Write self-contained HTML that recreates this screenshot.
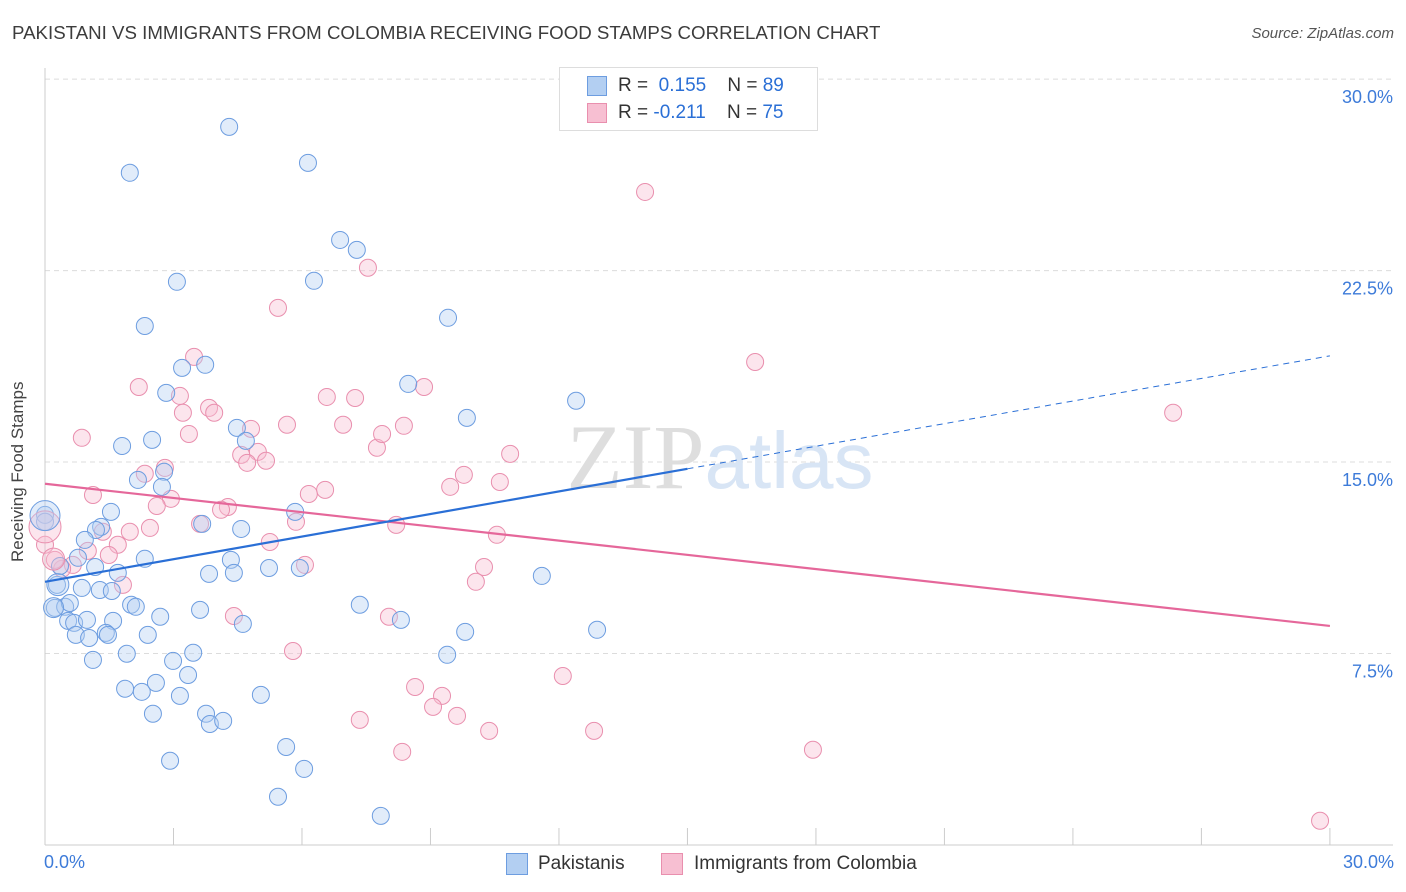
<!DOCTYPE html>
<html><head><meta charset="utf-8"><style>
body{margin:0;background:#fff;font-family:"Liberation Sans",sans-serif;}
#wrap{position:relative;width:1406px;height:892px;overflow:hidden;}
.t{position:absolute;white-space:nowrap;}
</style></head><body>
<div id="wrap">
<div class="t" style="left:12px;top:22px;font-size:18.7px;color:#3c3c3c;">PAKISTANI VS IMMIGRANTS FROM COLOMBIA RECEIVING FOOD STAMPS CORRELATION CHART</div>
<div class="t" style="right:12px;top:25px;font-size:15px;color:#555;font-style:italic;">Source: ZipAtlas.com</div>
<svg id="svg" width="1406" height="892" style="position:absolute;left:0;top:0"></svg>
</div>
<script>
const blueX=[4.30,1.98,6.14,6.89,7.28,3.08,6.28,2.33,9.41,3.20,3.74,8.48,2.83,12.40,9.85,1.80,2.50,4.48,4.69,2.78,2.17,2.73,1.54,1.31,1.19,0.93,3.67,4.58,5.84,0,0,2.33,0.77,4.34,0.35,1.17,1.70,5.23,5.95,3.83,4.41,11.60,0.28,0.86,1.28,1.56,0.23,0.47,0.58,0.54,0.68,0.98,1.59,2.01,2.12,2.69,3.62,7.35,8.31,4.62,0.72,1.03,1.42,1.47,2.40,9.81,12.89,1.91,1.12,2.99,3.46,9.39,3.34,1.87,2.26,2.59,3.15,5.04,2.52,3.76,3.85,4.16,5.63,2.92,6.05,5.44,7.84];
const blueY=[28.13,26.33,26.72,23.70,23.31,22.06,22.10,20.33,20.65,18.69,18.81,18.06,17.71,17.40,16.73,15.63,15.87,16.34,15.83,14.62,14.30,14.03,13.05,12.46,12.34,11.95,12.58,12.38,13.05,12.93,12.66,11.21,11.25,11.17,10.93,10.89,10.66,10.85,10.85,10.62,10.66,10.54,10.19,10.07,9.99,9.95,9.29,9.33,9.48,8.78,8.70,8.82,8.78,9.41,9.33,8.94,9.21,9.41,8.82,8.66,8.23,8.11,8.31,8.23,8.23,8.35,8.43,7.49,7.25,7.21,7.53,7.45,6.66,6.12,6.00,6.35,5.84,5.88,5.14,5.14,4.74,4.86,3.84,3.30,2.98,1.89,1.14];
const pinkX=[14.01,7.54,5.44,16.58,3.48,2.19,3.15,8.85,3.83,3.22,3.95,6.58,7.24,26.34,0.86,3.36,5.65,6.96,8.38,4.81,7.75,7.87,10.86,4.58,4.97,5.16,2.80,2.33,9.78,4.72,10.62,1.12,9.46,2.94,2.61,6.54,6.16,4.27,4.11,5.86,3.62,1.35,2.45,8.20,10.55,1.98,1.70,5.25,1.00,1.49,0.65,0.40,6.07,10.25,10.06,1.82,4.41,8.03,5.79,12.09,8.64,9.27,9.06,9.62,7.35,10.37,12.82,8.34,17.93,29.77,0,0.23];
const pinkY=[25.58,22.61,21.04,18.92,19.12,17.94,17.59,17.94,17.12,16.93,16.93,17.55,17.51,16.93,15.95,16.10,16.46,16.46,16.42,16.30,15.56,16.10,15.32,15.28,15.40,15.05,14.77,14.54,14.50,14.97,14.22,13.71,14.03,13.56,13.28,13.91,13.75,13.24,13.13,12.66,12.58,12.27,12.42,12.54,12.15,12.27,11.76,11.87,11.52,11.36,10.97,10.82,10.97,10.89,10.31,10.19,8.97,8.94,7.60,6.62,6.19,5.84,5.41,5.06,4.90,4.47,4.47,3.65,3.73,0.95,11.76,11.17];
const bigBlue=[[0,12.9,15],[0.2,9.3,10],[0.3,10.2,11]];
const bigPink=[[0,12.46,16],[0.2,11.2,11]];
const blueTrend=[10.31,19.16]; const blueSolidEnd=15;
const pinkTrend=[14.15,8.58];
const yTicks=[7.5,15,22.5,30];
const yTickLabels=["7.5%","15.0%","22.5%","30.0%"];
const xTicks=[0,3,6,9,12,15,18,21,24,27,30];
const xs=v=>45+v*42.83, ys=v=>845-v*25.53;
const svg=document.getElementById('svg');const NS='http://www.w3.org/2000/svg';
function mk(tag,a,parent){const e=document.createElementNS(NS,tag);for(const k in a)e.setAttribute(k,a[k]);(parent||svg).appendChild(e);return e;}
yTicks.forEach((t,i)=>{
 const g=mk('line',{x1:45,x2:1393,y1:ys(t),y2:ys(t),stroke:'#dcdcdc','stroke-dasharray':'5,4'});
 
 
 const l=mk('text',{x:1393,y:ys(t)+24,'text-anchor':'end','font-size':18,fill:'#3d7bd9','font-family':'Liberation Sans'});
 l.textContent=yTickLabels[i];
 
 
});
const ax=mk('line',{x1:45,x2:45,y1:68,y2:845,stroke:'#ccc'});


const bx=mk('line',{x1:45,x2:1393,y1:845,y2:845,stroke:'#ccc'});


xTicks.forEach(t=>{const k=mk('line',{x1:xs(t),x2:xs(t),y1:828,y2:845,stroke:'#ccc'});
 
 });
const wm=mk('text',{x:720,y:488,'text-anchor':'middle','font-size':92,'font-family':'Liberation Serif',fill:'#e3e3e3'});
wm.innerHTML='<tspan fill="#dedede">ZIP</tspan><tspan font-family="Liberation Sans" fill="#d8e5f5" font-size="80">atlas</tspan>';


function dot(x,y,r,fill,stroke,name){const c=mk('circle',{cx:xs(x),cy:ys(y),r:r,fill:fill,'fill-opacity':0.4,stroke:stroke,'stroke-width':1});
 
 }
pinkX.forEach((x,i)=>dot(x,pinkY[i],8.5,'#f7bfd2','#e98fae','pink-point'));
blueX.forEach((x,i)=>dot(x,blueY[i],8.5,'#b3cff2','#6d9de0','blue-point'));
bigPink.forEach(p=>dot(p[0],p[1],p[2],'#f7bfd2','#e98fae','pink-point'));
bigBlue.forEach(p=>dot(p[0],p[1],p[2],'#b3cff2','#6d9de0','blue-point'));
const pt=mk('line',{x1:xs(0),y1:ys(pinkTrend[0]),x2:xs(30),y2:ys(pinkTrend[1]),stroke:'#e5679a','stroke-width':2.2});


const bm=blueTrend[0]+(blueTrend[1]-blueTrend[0])*blueSolidEnd/30;
const bt=mk('line',{x1:xs(0),y1:ys(blueTrend[0]),x2:xs(blueSolidEnd),y2:ys(bm),stroke:'#2a6fd6','stroke-width':2.2});


const bd=mk('line',{x1:xs(blueSolidEnd),y1:ys(bm),x2:xs(30),y2:ys(blueTrend[1]),stroke:'#2a6fd6','stroke-width':1,'stroke-dasharray':'6,5'});


</script>
<div class="t" style="left:44px;top:852px;font-size:18px;color:#3d7bd9">0.0%</div>
<div class="t" style="right:12px;top:852px;font-size:18px;color:#3d7bd9">30.0%</div>
<div class="t" style="left:8px;font-size:17px;color:#444;transform:rotate(-90deg);transform-origin:left top;top:562px;">Receiving Food Stamps</div>
<div class="t" style="left:559px;top:67px;width:257px;height:62px;border:1px solid #ddd;background:#fff;font-size:19px;">
 <div class="t" style="left:27px;top:8px;width:18px;height:18px;background:#b3cff2;border:1px solid #6d9de0"></div>
 <div class="t" style="left:58px;top:7px;color:#333">R = <span style="color:#2a6fd6">&nbsp;0.155</span>&nbsp;&nbsp;&nbsp; N = <span style="color:#2a6fd6">89</span></div>
 <div class="t" style="left:27px;top:35px;width:18px;height:18px;background:#f7bfd2;border:1px solid #e98fae"></div>
 <div class="t" style="left:58px;top:34px;color:#333">R = <span style="color:#2a6fd6">-0.211</span>&nbsp;&nbsp;&nbsp; N = <span style="color:#2a6fd6">75</span></div>
</div>
<div class="t" style="left:506px;top:853px;width:20px;height:20px;background:#b3cff2;border:1px solid #6d9de0"></div>
<div class="t" style="left:538px;top:853px;font-size:19px;color:#333">Pakistanis</div>
<div class="t" style="left:661px;top:853px;width:20px;height:20px;background:#f7bfd2;border:1px solid #e98fae"></div>
<div class="t" style="left:694px;top:853px;font-size:19px;color:#333">Immigrants from Colombia</div>
</body></html>
